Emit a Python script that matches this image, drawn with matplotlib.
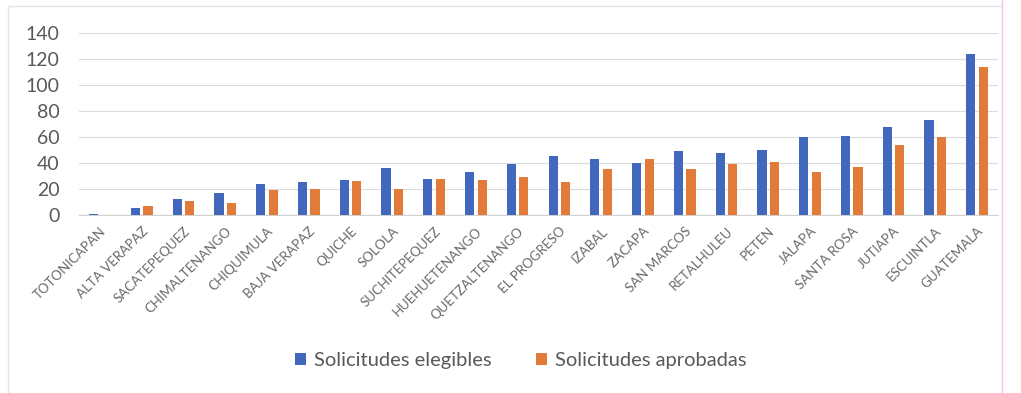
import numpy as np
import matplotlib.pyplot as plt
from matplotlib.lines import Line2D

# departments (sorted as in the chart)
departamentos = ['TOTONICAPAN', 'ALTA VERAPAZ', 'SACATEPEQUEZ', 'CHIMALTENANGO',
                 'CHIQUIMULA', 'BAJA VERAPAZ', 'QUICHE', 'SOLOLA', 'SUCHITEPEQUEZ',
                 'HUEHUETENANGO', 'QUETZALTENANGO', 'EL PROGRESO', 'IZABAL', 'ZACAPA',
                 'SAN MARCOS', 'RETALHULEU', 'PETEN', 'JALAPA', 'SANTA ROSA',
                 'JUTIAPA', 'ESCUINTLA', 'GUATEMALA']
elegibles = [1, 5, 12, 17, 24, 25, 27, 36, 28, 33, 39, 45, 43, 40, 49, 48, 50, 60, 61, 68, 73, 124]
aprobadas = [0, 7, 11, 9, 19, 20, 26, 20, 28, 27, 29, 25, 35, 43, 35, 39, 41, 33, 37, 54, 60, 114]

plt.rcParams['font.family'] = ['Lato', 'DejaVu Sans']

fig = plt.figure(figsize=(10.21, 3.93), dpi=100)
ax = fig.add_axes([79 / 1021, 1 - 215 / 393, (998 - 79) / 1021, (215 - 33) / 393])

x = np.arange(len(departamentos))
w = 0.22
ax.bar(x - 0.15, elegibles, width=w, color='#4268BE', label='Solicitudes elegibles', zorder=3)
ax.bar(x + 0.15, aprobadas, width=w, color='#E27A3A', label='Solicitudes aprobadas', zorder=3)

ax.set_xlim(-0.5, len(departamentos) - 0.5)
ax.set_ylim(0, 140)
ax.set_yticks(range(0, 141, 20))
ax.grid(axis='y', color='#DCDCDC', linewidth=0.8, zorder=0)
for s in ['top', 'right', 'left']:
    ax.spines[s].set_visible(False)
ax.spines['bottom'].set_color('#D0D0D0')
ax.tick_params(axis='y', length=0, pad=14, labelsize=14, labelcolor='#595959')
ax.tick_params(axis='x', length=0, pad=7)
ax.set_xticks(x)
ax.set_xticklabels(departamentos, rotation=45, ha='right', rotation_mode='anchor',
                   fontsize=9.5, color='#6A6A6A')

ax.legend(loc='center', bbox_to_anchor=(0.5 - 18 / 919, (215 - 361) / 182), ncol=2,
          frameon=False, fontsize=14.5, labelcolor='#595959', handlelength=0.55,
          handleheight=0.55, handletextpad=0.4, columnspacing=2.2)

# faint chart border
fig.add_artist(Line2D([8 / 1021, 8 / 1021], [0, 1 - 6 / 393], color='#E4E4E4', lw=1))
fig.add_artist(Line2D([8 / 1021, 1002 / 1021], [1 - 6 / 393, 1 - 6 / 393], color='#E4E4E4', lw=1))
fig.add_artist(Line2D([1002 / 1021, 1002 / 1021], [0, 1], color='#F3C6F0', lw=1))

fig.savefig('out.png', dpi=100)
